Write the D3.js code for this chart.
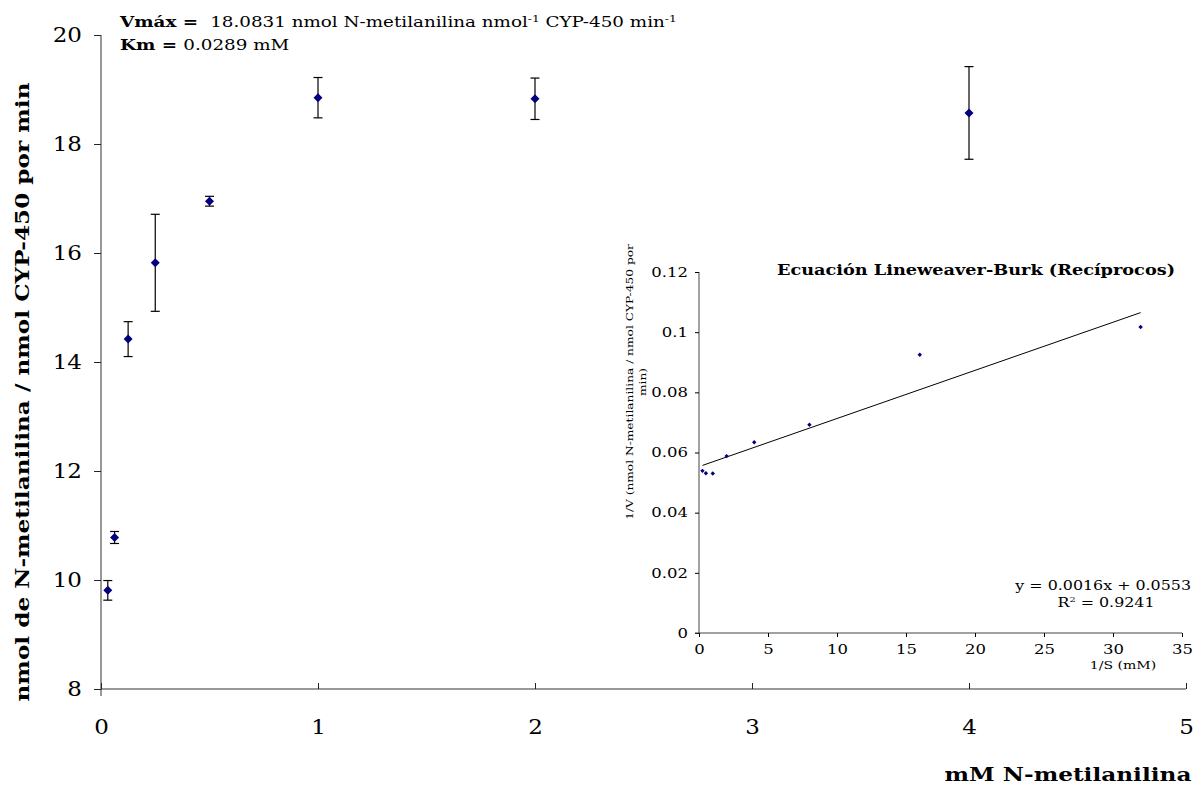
<!DOCTYPE html>
<html>
<head>
<meta charset="utf-8">
<script src="https://cdn.jsdelivr.net/npm/d3@7/dist/d3.min.js"></script>
<style>
  html, body { margin: 0; padding: 0; background: #fff; }
  svg { display: block; font-family: "DejaVu Serif", "Liberation Serif", serif; }
  text { white-space: pre; }
</style>
</head>
<body>
<svg id="chart" width="1194" height="787"></svg>
<script>
// Michaelis-Menten data: substrate (mM) vs velocity with error bars
const substrate = [0.03125, 0.0625, 0.125, 0.25, 0.5, 1, 2, 4];
const velocity  = [9.81, 10.78, 14.42, 15.82, 16.95, 18.85, 18.83, 18.57];
const errPlus   = [0.18, 0.11, 0.32, 0.89, 0.09, 0.37, 0.38, 0.85];
const errMinus  = [0.18, 0.11, 0.32, 0.89, 0.09, 0.37, 0.38, 0.85];
const mainXTicks = [0, 1, 2, 3, 4, 5];
const mainYTicks = [8, 10, 12, 14, 16, 18, 20];
const vmax = "18.0831";
const km = "0.0289";

// Lineweaver-Burk reciprocals
const invS = [0.25, 0.5, 1, 2, 4, 8, 16, 32];
const invV = [0.0539, 0.0531, 0.0530, 0.0588, 0.0634, 0.0692, 0.0925, 0.1017];
const insetXTicks = [0, 5, 10, 15, 20, 25, 30, 35];
const insetYTicks = [0, 0.02, 0.04, 0.06, 0.08, 0.1, 0.12];
const fitSlope = 0.0016;
const fitIntercept = 0.0553;
const fitR2 = 0.9241;

const svg = d3.select("#chart");
const navy = "#000080";

// ---------- main plot ----------
const x = d3.scaleLinear().domain([0, 5]).range([101, 1186]);
const y = d3.scaleLinear().domain([8, 20]).range([689, 35]);

const yAxis = svg.append("g")
  .attr("transform", `translate(${x(0)},0)`)
  .call(d3.axisLeft(y).tickValues(mainYTicks).tickSize(7).tickPadding(12).tickFormat(d3.format("d")));
yAxis.select(".domain").attr("d", `M0,${y(20)}V${y(8) + 7}`).attr("stroke", "#333");
yAxis.selectAll(".tick line").attr("stroke", "#222");
yAxis.selectAll("text").attr("font-size", 20).attr("fill", "#000")
  .attr("font-family", "DejaVu Serif").classed("wide-tick", true);

const xAxis = svg.append("g")
  .attr("transform", `translate(0,${y(8)})`)
  .call(d3.axisBottom(x).tickValues(mainXTicks).tickSize(-6).tickPadding(31).tickFormat(d3.format("d")));
xAxis.select(".domain").attr("d", `M${x(0)},0H${x(5)}`).attr("stroke", "#333");
xAxis.selectAll(".tick line").attr("stroke", "#222");
xAxis.selectAll("text").attr("font-size", 20).attr("fill", "#000")
  .attr("font-family", "DejaVu Serif").classed("wide-tick", true);

// error bars
const eb = svg.append("g");
substrate.forEach((s, i) => {
  const cx = x(s);
  const top = y(velocity[i] + errPlus[i]);
  const bot = y(velocity[i] - errMinus[i]);
  eb.append("line").attr("x1", cx).attr("x2", cx).attr("y1", top).attr("y2", bot)
    .attr("stroke", "#000").attr("stroke-width", 1.2);
  [top, bot].forEach(yy => eb.append("line")
    .attr("x1", cx - 4.5).attr("x2", cx + 4.5).attr("y1", yy).attr("y2", yy)
    .attr("stroke", "#000").attr("stroke-width", 1.2));
});

// diamond markers
svg.append("g").selectAll("path")
  .data(substrate)
  .join("path")
  .attr("transform", (d, i) => `translate(${x(d)},${y(velocity[i])})`)
  .attr("d", "M0,-4.5L4.5,0L0,4.5L-4.5,0Z")
  .attr("fill", navy);

// axis titles
svg.append("text")
  .attr("transform", "translate(29,392) rotate(-90)")
  .attr("text-anchor", "middle")
  .attr("font-size", 19).attr("font-weight", "bold")
  .text("nmol de N-metilanilina / nmol CYP-450 por min");

svg.append("text")
  .attr("x", 1068).attr("y", 781)
  .attr("text-anchor", "middle")
  .attr("font-size", 19).attr("font-weight", "bold")
  .text("mM N-metilanilina");

// kinetic constants
const vt = svg.append("text").attr("x", 120).attr("y", 27).attr("font-size", 15);
vt.append("tspan").attr("font-weight", "bold").text("Vmáx = ");
vt.append("tspan").text(" " + vmax + " nmol N-metilanilina nmol");
vt.append("tspan").attr("font-size", 10).attr("dy", -5).text("-1");
vt.append("tspan").attr("dy", 5).text(" CYP-450 min");
vt.append("tspan").attr("font-size", 10).attr("dy", -5).text("-1");

const kt = svg.append("text").attr("x", 120).attr("y", 50).attr("font-size", 15);
kt.append("tspan").attr("font-weight", "bold").text("Km = ");
kt.append("tspan").text(km + " mM");

// ---------- inset: Lineweaver-Burk ----------
const ix = d3.scaleLinear().domain([0, 35]).range([699, 1182]);
const iy = d3.scaleLinear().domain([0, 0.12]).range([633, 272]);

const iyAxis = svg.append("g")
  .attr("transform", `translate(${ix(0)},0)`)
  .call(d3.axisLeft(iy).tickValues(insetYTicks).tickSize(4).tickPadding(7)
    .tickFormat(d => d === 0 ? "0" : String(+d.toFixed(2))));
iyAxis.select(".domain").attr("d", `M0,${iy(0.12)}V${iy(0)}`).attr("stroke", "#444");
iyAxis.selectAll("text").attr("font-size", 13.5).attr("fill", "#000").attr("font-family", "DejaVu Serif");

const ixAxis = svg.append("g")
  .attr("transform", `translate(0,${iy(0)})`)
  .call(d3.axisBottom(ix).tickValues(insetXTicks).tickSize(4).tickPadding(7).tickFormat(d3.format("d")));
ixAxis.select(".domain").attr("d", `M${ix(0) - 4},0H${ix(35)}`).attr("stroke", "#444");
ixAxis.selectAll("text").attr("font-size", 13.5).attr("fill", "#000").attr("font-family", "DejaVu Serif");

// trendline over the data range
const xMin = d3.min(invS), xMax = d3.max(invS);
svg.append("line")
  .attr("x1", ix(xMin)).attr("y1", iy(fitIntercept + fitSlope * xMin))
  .attr("x2", ix(xMax)).attr("y2", iy(fitIntercept + fitSlope * xMax))
  .attr("stroke", "#000").attr("stroke-width", 1);

svg.append("g").selectAll("path")
  .data(invS)
  .join("path")
  .attr("transform", (d, i) => `translate(${ix(d)},${iy(invV[i])})`)
  .attr("d", "M0,-2.2L2.2,0L0,2.2L-2.2,0Z")
  .attr("fill", navy);

svg.append("text")
  .attr("x", 976).attr("y", 275)
  .attr("text-anchor", "middle")
  .attr("font-size", 14.5).attr("font-weight", "bold")
  .text("Ecuación Lineweaver-Burk (Recíprocos)");

svg.append("text").attr("font-size", 13).attr("text-anchor", "end")
  .attr("x", 1191).attr("y", 590)
  .text(`y = ${fitSlope}x + ${fitIntercept}`);
const r2 = svg.append("text").attr("font-size", 13).attr("text-anchor", "middle")
  .attr("x", 1106).attr("y", 607);
r2.append("tspan").text("R");
r2.append("tspan").attr("font-size", 8).attr("dy", -5).text("2");
r2.append("tspan").attr("dy", 5).text(" = " + fitR2);

svg.append("text")
  .attr("x", 1123).attr("y", 669)
  .attr("text-anchor", "middle")
  .attr("font-size", 11.5)
  .text("1/S (mM)");

svg.append("text")
  .attr("transform", "translate(633,382) rotate(-90)")
  .attr("text-anchor", "middle")
  .attr("font-size", 10)
  .text("1/V (nmol N-metilanilina / nmol CYP-450 por");
svg.append("text")
  .attr("transform", "translate(646,382) rotate(-90)")
  .attr("text-anchor", "middle")
  .attr("font-size", 10)
  .text("min)");

// the lettering is set in a broad face: stretch each label horizontally
svg.selectAll("text").each(function () {
  const factor = this.classList.contains("wide-tick") ? 1.15 : 1.22;
  const w = this.getComputedTextLength();
  d3.select(this).attr("textLength", w * factor).attr("lengthAdjust", "spacingAndGlyphs");
});
</script>
</body>
</html>
